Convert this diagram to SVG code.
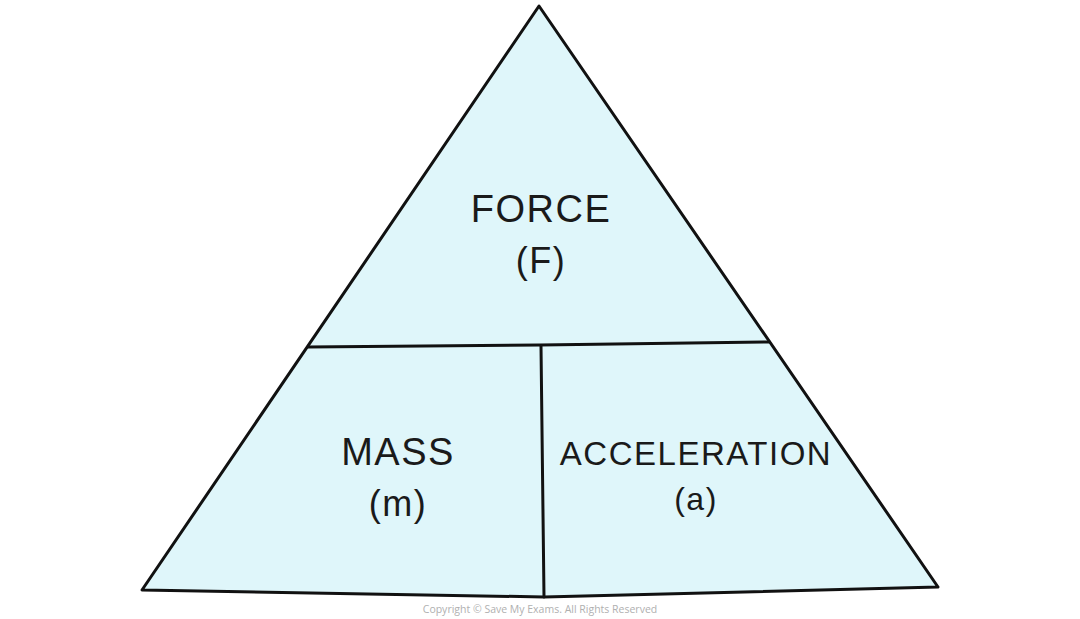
<svg xmlns="http://www.w3.org/2000/svg" width="1080" height="619" viewBox="0 0 1080 619">
<style>
.shape{fill:#dff6fa;stroke:#111;stroke-width:3;stroke-linejoin:round;stroke-linecap:round}
.line{fill:none;stroke:#111;stroke-width:3;stroke-linecap:round}
.lbl{font-family:"Liberation Sans",Arial,sans-serif;fill:#1a1a1a;text-anchor:middle;letter-spacing:1.5px}
.copy{font-family:"Open Sans","Liberation Sans",sans-serif;font-size:10.5px;fill:#b0b0b0;text-anchor:middle}
</style>
<rect width="1080" height="619" fill="#ffffff"/>
<g id="triangle">
<polygon class="shape" points="539,6 938,587 544,597 142,590"/>
</g>
<g id="connectors">
<polyline class="line" points="308,347 540,345 769,342"/>
<line class="line" x1="541" y1="346" x2="544" y2="597"/>
</g>
<g id="force">
<text class="lbl" x="541" y="222" font-size="38">FORCE</text>
<text class="lbl" x="541" y="273" font-size="36">(F)</text>
</g>
<g id="mass">
<text class="lbl" x="398" y="465" font-size="38">MASS</text>
<text class="lbl" x="398" y="516" font-size="36">(m)</text>
</g>
<g id="acceleration">
<text class="lbl" x="696" y="465" font-size="33">ACCELERATION</text>
<text class="lbl" x="696" y="510" font-size="32">(a)</text>
</g>
<text class="copy" x="540" y="613">Copyright © Save My Exams. All Rights Reserved</text>
</svg>
